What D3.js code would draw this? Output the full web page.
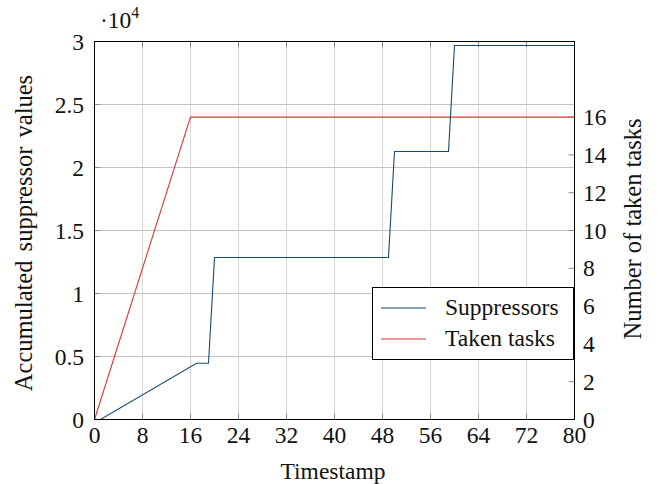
<!DOCTYPE html>
<html><head><meta charset="utf-8">
<script src="https://cdn.jsdelivr.net/npm/d3@7/dist/d3.min.js"></script>
<style>
body{margin:0;background:#fff;}
svg text{font-family:"Liberation Serif";}
</style></head>
<body><svg id="c" width="660" height="484"></svg>
<script>
// data
const supT = [0, 1, 17, 19, 20, 49, 50, 59, 60, 80];
const supV = [0, 0, 4470, 4470, 12860, 12860, 21270, 21270, 29680, 29680];
const taskT = [0, 16, 80];
const taskV = [0, 16, 16];
const xTicks = [0, 8, 16, 24, 32, 40, 48, 56, 64, 72, 80];
const yLTicks = [0, 5000, 10000, 15000, 20000, 25000, 30000];
const yLLabels = ["0", "0.5", "1", "1.5", "2", "2.5", "3"];
const yRTicks = [0, 2, 4, 6, 8, 10, 12, 14, 16];
const seriesNames = ["Suppressors", "Taken tasks"];
const seriesColors = ["#174a72", "#dc3535"];

const svg = d3.select("#c");
const L = 94.5, R = 574.5, T = 41.5, B = 419.5;
const x = d3.scaleLinear().domain([0, 80]).range([L, R]);
const yL = d3.scaleLinear().domain([0, 30000]).range([B, T]);
const yR = d3.scaleLinear().domain([0, 20]).range([B, T]);
const FS = 23.5;

function T_(sel) {
  return sel.style("font-family", "Liberation Serif").attr("font-size", FS).attr("fill", "#111");
}

// grid
const g = svg.append("g");
g.selectAll("line.vg").data(xTicks).join("line")
  .attr("x1", d => x(d)).attr("x2", d => x(d)).attr("y1", T).attr("y2", B)
  .attr("stroke", "#d6d6d6").attr("stroke-width", 1);
g.selectAll("line.hg").data(yLTicks).join("line")
  .attr("x1", L).attr("x2", R).attr("y1", d => yL(d)).attr("y2", d => yL(d))
  .attr("stroke", "#c4c4c4").attr("stroke-width", 1);

// tick marks (inward)
const tl = 6, tc = "#8c8c8c";
g.selectAll("line.xtb").data(xTicks).join("line")
  .attr("x1", d => x(d)).attr("x2", d => x(d)).attr("y1", B).attr("y2", B - tl).attr("stroke", tc);
g.selectAll("line.xtt").data(xTicks).join("line")
  .attr("x1", d => x(d)).attr("x2", d => x(d)).attr("y1", T).attr("y2", T + tl).attr("stroke", tc);
g.selectAll("line.ylt").data(yLTicks).join("line")
  .attr("x1", L).attr("x2", L + tl).attr("y1", d => yL(d)).attr("y2", d => yL(d)).attr("stroke", tc);
g.selectAll("line.yrt").data(yRTicks).join("line")
  .attr("x1", R).attr("x2", R - tl).attr("y1", d => yR(d)).attr("y2", d => yR(d)).attr("stroke", tc);

// lines
const lineSup = d3.line().x(d => x(d[0])).y(d => yL(d[1]));
const lineTask = d3.line().x(d => x(d[0])).y(d => yR(d[1]));
svg.append("path").datum(taskT.map((t, i) => [t, taskV[i]]))
  .attr("d", lineTask).attr("fill", "none").attr("stroke", seriesColors[1]).attr("stroke-width", 1.1);
svg.append("path").datum(supT.map((t, i) => [t, supV[i]]))
  .attr("d", lineSup).attr("fill", "none").attr("stroke", seriesColors[0]).attr("stroke-width", 1.1);

// frame
svg.append("rect").attr("x", L).attr("y", T).attr("width", R - L).attr("height", B - T)
  .attr("fill", "none").attr("stroke", "#000").attr("stroke-width", 1);

// tick labels
T_(svg.selectAll("text.xl").data(xTicks).join("text"))
  .attr("x", d => x(d)).attr("y", 443).attr("text-anchor", "middle").text(d => d);
T_(svg.selectAll("text.yl").data(yLTicks).join("text"))
  .attr("x", 84).attr("y", d => yL(d) + 8).attr("text-anchor", "end").text((d, i) => yLLabels[i]);
T_(svg.selectAll("text.yr").data(yRTicks).join("text"))
  .attr("x", 583).attr("y", d => yR(d) + 8).attr("text-anchor", "start").text(d => d);

// multiplier
const m = T_(svg.append("text")).attr("x", 100).attr("y", 28);
m.append("tspan").text("\u00b710");
m.append("tspan").attr("font-size", 16).attr("dy", -10).text("4");

// axis labels
T_(svg.append("text")).attr("x", 333).attr("y", 479).attr("text-anchor", "middle").text("Timestamp");
T_(svg.append("text")).attr("transform", "translate(32,233) rotate(-90)").attr("text-anchor", "middle")
  .attr("font-size", 24.5).style("word-spacing", "3px").text("Accumulated suppressor values");
T_(svg.append("text")).attr("transform", "translate(641,229) rotate(-90)").attr("text-anchor", "middle")
  .attr("font-size", 24.5).text("Number of taken tasks");

// legend
const lg = svg.append("g");
lg.append("rect").attr("x", 372.5).attr("y", 287.5).attr("width", 201).attr("height", 72)
  .attr("fill", "#fff").attr("stroke", "#000").attr("stroke-width", 1);
const ly = [308, 339];
seriesNames.forEach((n, i) => {
  lg.append("line").attr("x1", 381).attr("x2", 426).attr("y1", ly[i]).attr("y2", ly[i])
    .attr("stroke", seriesColors[i]).attr("stroke-width", 1.1);
  T_(lg.append("text")).attr("x", 445).attr("y", ly[i] + 7).text(n);
});
</script></body></html>
